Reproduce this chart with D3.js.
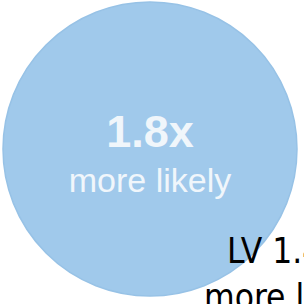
<!DOCTYPE html>
<html>
<head>
<meta charset="utf-8">
<script src="https://cdn.jsdelivr.net/npm/d3@7"></script>
<style>
  html, body { margin: 0; padding: 0; background: #fff; overflow: hidden; }
</style>
</head>
<body>
<div id="chart"></div>
<script>
// values
var groups = ["", "LV"];
var ratios = [1.8, 1.4];
var subLabel = "more likely";

var width = 304, height = 304;

var svg = d3.select("#chart")
  .append("svg")
  .attr("width", width)
  .attr("height", height);

// circle size scale (area ~ ratio)
var r = d3.scaleSqrt()
  .domain([0, d3.max(ratios)])
  .range([0, 147]);

// left edge / centre of each group
var x = d3.scalePoint()
  .domain(groups)
  .range([150, 227]);

var fmt = function(d) { return d3.format(".1f")(d) + "x"; };

// main bubble
svg.append("circle")
  .attr("cx", x(groups[0]))
  .attr("cy", 149)
  .attr("r", r(ratios[0]))
  .attr("fill", "#a0c9eb")
  .attr("stroke", "#97c2e6")
  .attr("stroke-width", 1.5);

svg.append("text")
  .attr("x", x(groups[0]))
  .attr("y", 147)
  .attr("text-anchor", "middle")
  .style("font-family", "'Liberation Sans', Arial, sans-serif")
  .style("font-weight", "bold")
  .style("font-size", "45px")
  .attr("fill", "#f0f6fb")
  .text(fmt(ratios[0]));

svg.append("text")
  .attr("x", x(groups[0]))
  .attr("y", 192)
  .attr("text-anchor", "middle")
  .style("font-family", "'Liberation Sans', Arial, sans-serif")
  .style("font-size", "34px")
  .attr("fill", "#f0f6fb")
  .text(subLabel);

// second label, running off the edge (as in the reference)
var lab = svg.append("text")
  .attr("y", 263)
  .style("font-family", "'DejaVu Sans Condensed', 'DejaVu Sans', sans-serif")
  .style("font-size", "35px")
  .attr("fill", "#000");

lab.append("tspan")
  .attr("x", x(groups[1]))
  .text(groups[1] + " " + fmt(ratios[1]));

lab.append("tspan")
  .attr("x", x(groups[1]) - 23)
  .attr("dy", 46)
  .text(subLabel);
</script>
</body>
</html>
